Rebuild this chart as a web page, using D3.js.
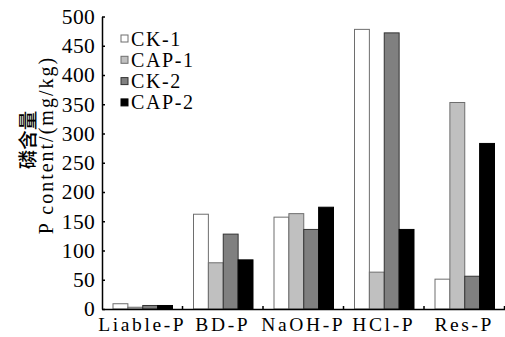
<!DOCTYPE html>
<html>
<head>
<meta charset="utf-8">
<script src="https://cdn.jsdelivr.net/npm/d3@7"></script>
<style>
  body { margin: 0; background: #fff; }
  text { fill: #000; }
</style>
</head>
<body>
<div id="chart"></div>
<script>
// Data
var categories = ["Liable-P", "BD-P", "NaOH-P", "HCl-P", "Res-P"];
var seriesNames = ["CK-1", "CAP-1", "CK-2", "CAP-2"];
var ck1 = [9, 162, 157, 478, 51];
var cap1 = [3, 79, 163, 63, 353];
var ck2 = [6, 128, 136, 472, 56];
var cap2 = [6, 84, 174, 136, 283];
var yTicks = [0, 50, 100, 150, 200, 250, 300, 350, 400, 450, 500];

var seriesValues = [ck1, cap1, ck2, cap2];
var fills = ["#ffffff", "#c0c0c0", "#808080", "#000000"];
var strokes = ["#6e6e6e", "#6e6e6e", "#333333", "#000000"];

var svgWidth = 505;
var svgHeight = 337;
var margin = { top: 16.5, right: 0.5, bottom: 28, left: 102 };
var width = svgWidth - margin.left - margin.right;
var height = svgHeight - margin.top - margin.bottom;

var svg = d3.select("#chart")
  .append("svg")
  .attr("width", svgWidth)
  .attr("height", svgHeight);

var chartGroup = svg.append("g")
  .attr("transform", `translate(${margin.left}, ${margin.top})`);

// Scales
var x0 = d3.scaleBand()
  .domain(categories)
  .range([0, width])
  .padding(0);

var x1 = d3.scaleBand()
  .domain(seriesNames)
  .range([11, x0.bandwidth() - 10])
  .padding(0);

var y = d3.scaleLinear()
  .domain([0, 500])
  .range([height, 0]);

// Bars
var rows = [];
categories.forEach(function(c, i) {
  seriesNames.forEach(function(s, j) {
    rows.push({ cat: c, series: s, idx: j, value: seriesValues[j][i] });
  });
});

chartGroup.selectAll("rect.bar")
  .data(rows)
  .enter()
  .append("rect")
  .attr("class", "bar")
  .attr("x", d => x0(d.cat) + x1(d.series))
  .attr("y", d => y(d.value))
  .attr("width", x1.bandwidth())
  .attr("height", d => height - y(d.value))
  .attr("fill", d => fills[d.idx])
  .attr("stroke", d => strokes[d.idx])
  .attr("stroke-width", 1);

// Axes
var fontStack = "'Liberation Serif', 'DejaVu Serif', serif";

var leftAxis = d3.axisLeft(y)
  .tickValues(yTicks)
  .tickSizeInner(-3)
  .tickSizeOuter(0)
  .tickPadding(7);

var yAxisG = chartGroup.append("g").call(leftAxis);
yAxisG.select(".domain").attr("stroke", "#000").attr("stroke-width", 1.5);
yAxisG.selectAll(".tick line").attr("stroke", "#000").attr("stroke-width", 1.5);
yAxisG.selectAll(".tick text")
  .style("font-family", fontStack)
  .style("font-size", "21.5px")
  .style("letter-spacing", "0.3px")
  .attr("fill", "#000");

var bottomAxis = d3.axisBottom(x0)
  .tickSize(0)
  .tickPadding(8);

var xAxisG = chartGroup.append("g")
  .attr("transform", `translate(0, ${height})`)
  .call(bottomAxis);
xAxisG.select(".domain").attr("stroke", "#000").attr("stroke-width", 1.5);
xAxisG.selectAll(".tick text")
  .style("font-family", fontStack)
  .style("font-size", "19.5px")
  .style("letter-spacing", "2.6px")
  .attr("fill", "#000");

// category boundary ticks (pointing up)
chartGroup.selectAll("line.sep")
  .data(categories)
  .enter()
  .append("line")
  .attr("class", "sep")
  .attr("x1", d => x0(d) + x0.bandwidth())
  .attr("x2", d => x0(d) + x0.bandwidth())
  .attr("y1", height)
  .attr("y2", height - 3)
  .attr("stroke", "#000")
  .attr("stroke-width", 1.5);

// Legend
var legend = chartGroup.append("g")
  .attr("transform", "translate(19, 22)");

var legendItems = legend.selectAll("g")
  .data(seriesNames)
  .enter()
  .append("g")
  .attr("transform", (d, i) => `translate(0, ${i * 21.3})`);

legendItems.append("rect")
  .attr("x", 0)
  .attr("y", -3.5)
  .attr("width", 7)
  .attr("height", 7)
  .attr("fill", (d, i) => fills[i])
  .attr("stroke", (d, i) => strokes[i])
  .attr("stroke-width", 1);

legendItems.append("text")
  .attr("x", 10)
  .attr("y", 0)
  .attr("dy", "0.35em")
  .style("font-family", fontStack)
  .style("font-size", "20px")
  .style("letter-spacing", "1.6px")
  .text(d => d);

// Y axis title
var titleG = svg.append("g")
  .attr("transform", "translate(0, 145) rotate(-90)");

titleG.append("text")
  .attr("x", 5)
  .attr("y", 27.5)
  .attr("dy", "0.36em")
  .attr("text-anchor", "middle")
  .style("font-family", "'Noto Sans CJK SC', sans-serif")
  .style("font-size", "19.5px")
  .style("font-weight", "500")
  .text("磷含量");

titleG.append("text")
  .attr("x", 0)
  .attr("y", 46)
  .attr("dy", "0.35em")
  .attr("text-anchor", "middle")
  .style("font-family", fontStack)
  .style("font-size", "20px")
  .style("letter-spacing", "2.0px")
  .text("P content/(mg/kg)");
</script>
</body>
</html>
